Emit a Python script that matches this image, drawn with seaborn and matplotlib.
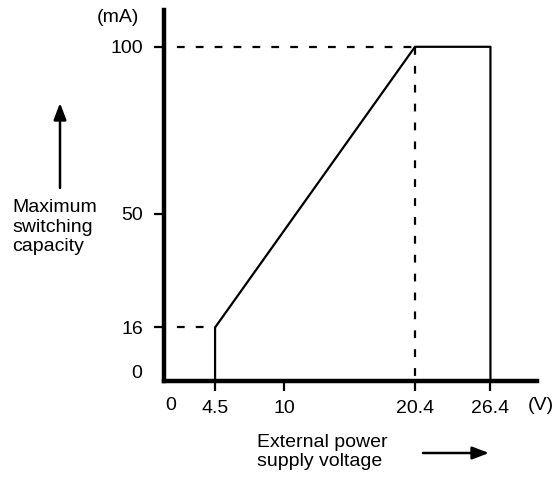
import numpy as np
import pandas as pd
import matplotlib
matplotlib.use("Agg")
import matplotlib.pyplot as plt
import seaborn as sns

# Derating curve: external supply voltage (V) -> max switching capacity (mA)
volt = [4.5, 4.5, 20.4, 26.4, 26.4]
current = [0, 16, 100, 100, 0]

# dashed guide lines to the axes
guide_16_x = [0, 4.5]
guide_16_y = [16, 16]
guide_100_x = [0, 20.4]
guide_100_y = [100, 100]
guide_v_x = [20.4, 20.4]
guide_v_y = [100, 0]

xtick_vals = [4.5, 10, 20.4, 26.4]
xtick_labels = ["4.5", "10", "20.4", "26.4"]
ytick_vals = [16, 50, 100]
ytick_labels = ["16", "50", "100"]

sns.set_style("ticks")
plt.rcParams["font.family"] = ["Liberation Sans", "DejaVu Sans"]
plt.rcParams["text.color"] = "black"
plt.rcParams["xtick.color"] = "black"
plt.rcParams["ytick.color"] = "black"
fs = 14

fig = plt.figure(figsize=(5.53, 4.78), dpi=100)
ax = fig.add_axes([0.2966, 0.203, 0.971 - 0.2966, 0.979 - 0.203])

df = pd.DataFrame({"V": volt, "mA": current})
sns.lineplot(data=df, x="V", y="mA", sort=False, estimator=None,
             color="black", lw=1.6, ax=ax)
for gx, gy in [(guide_16_x, guide_16_y), (guide_100_x, guide_100_y), (guide_v_x, guide_v_y)]:
    sns.lineplot(x=gx, y=gy, sort=False, estimator=None, color="black",
                 lw=1.6, dashes=False, ax=ax)
for ln in ax.lines[1:]:
    ln.set_dashes((3.5, 5))

ax.set_xlim(0.44, 30.1)
ax.set_ylim(0, 111)
sns.despine(ax=ax)
for s in ["left", "bottom"]:
    ax.spines[s].set_linewidth(3.2)
    ax.spines[s].set_color("black")

ax.set_xticks(xtick_vals)
ax.set_xticklabels(xtick_labels, fontsize=fs)
ax.set_yticks(ytick_vals)
ax.set_yticklabels(ytick_labels, fontsize=fs)
ax.tick_params(axis="both", direction="out", length=7, width=1.6,
               color="black", labelcolor="black")
ax.tick_params(axis="x", pad=7)
ax.tick_params(axis="y", pad=8)
ax.set_xlabel("")
ax.set_ylabel("")

# extra labels without ticks
fig.text(171 / 553, 1 - 406 / 478, "0", fontsize=fs, ha="center", va="center")
fig.text(142 / 553, 1 - 373 / 478, "0", fontsize=fs, ha="right", va="center")
fig.text(139 / 553, 1 - 18 / 478, "(mA)", fontsize=fs, ha="right", va="center")
fig.text(528 / 553, 1 - 406 / 478, "(V)", fontsize=fs, ha="left", va="center")

fig.text(12 / 553, 1 - 227 / 478, "Maximum\nswitching\ncapacity", fontsize=fs,
         ha="left", va="center", linespacing=1.2)
fig.text(257 / 553, 1 - 452 / 478, "External power\nsupply voltage", fontsize=fs,
         ha="left", va="center", linespacing=1.15)

arrow = dict(arrowstyle="-|>,head_length=1.0,head_width=0.38", color="black", lw=1.8,
             shrinkA=0, shrinkB=0)
ax.annotate("", xy=(60 / 553, 1 - 103 / 478), xytext=(60 / 553, 1 - 188 / 478),
            xycoords="figure fraction", textcoords="figure fraction",
            arrowprops=arrow, annotation_clip=False)
ax.annotate("", xy=(489 / 553, 1 - 453 / 478), xytext=(423 / 553, 1 - 453 / 478),
            xycoords="figure fraction", textcoords="figure fraction",
            arrowprops=arrow, annotation_clip=False)

fig.savefig("out.png", dpi=100)
